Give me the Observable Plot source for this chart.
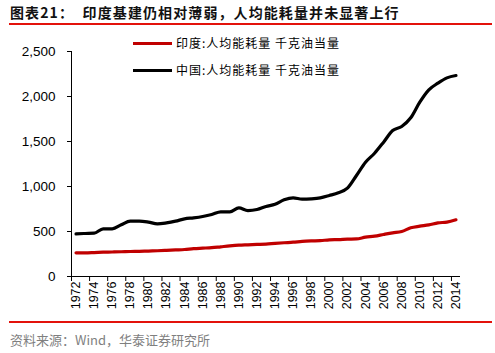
<!DOCTYPE html>
<html><head><meta charset="utf-8">
<script src="https://cdn.jsdelivr.net/npm/d3@7"></script>
<script src="https://cdn.jsdelivr.net/npm/@observablehq/plot@0.6"></script>
<style>
body{margin:0;background:#fff;}
#wrap{position:relative;width:495px;height:353px;overflow:hidden;background:#fff;}
#chart{position:absolute;left:0;top:0;}
.title{position:absolute;left:10px;top:3px;font-family:"Noto Sans CJK SC",sans-serif;font-weight:bold;font-size:14px;letter-spacing:1.1px;color:#111;white-space:pre;line-height:18px;}
.rule{position:absolute;left:9px;width:483px;height:2px;background:#e3120b;}
.caption{position:absolute;left:10px;top:331px;font-family:"Noto Sans CJK SC",sans-serif;font-size:13px;color:#7f7f7f;white-space:pre;line-height:17px;}
.leg{position:absolute;left:133px;height:14px;font-family:"Noto Sans CJK SC",sans-serif;font-size:12px;letter-spacing:1px;color:#000;white-space:pre;line-height:14px;}
.leg span.sw{position:absolute;left:0;top:6px;width:39px;height:3px;}
.leg span.tx{position:absolute;left:43px;top:0;}
</style></head>
<body>
<div id="wrap">
  <div id="chart"></div>
  <div class="title" id="title"></div>
  <div class="rule" style="top:23px"></div>
  <div class="rule" style="top:321px"></div>
  <div class="caption" id="caption"></div>
  <div id="legend"></div>
</div>
<script>
const titleText = "图表21：  印度基建仍相对薄弱，人均能耗量并未显著上行";
const captionText = "资料来源：Wind，华泰证券研究所";
const seriesNames = ["印度:人均能耗量 千克油当量", "中国:人均能耗量 千克油当量"];
const seriesColors = ["#c00000", "#000000"];
const years = d3.range(1972, 2015);
const india = [263,263,266,270,272,275,278,280,283,286,290,295,300,310,315,320,330,340,348,352,356,360,368,375,381,390,395,398,407,410,415,418,437,448,467,485,500,541,559,574,596,604,630];
const china = [474,478,481,530,530,574,615,615,604,585,596,615,641,652,667,689,719,719,763,733,744,778,803,852,874,859,863,874,900,930,981,1122,1270,1370,1493,1622,1667,1763,1937,2074,2148,2207,2233];
const yTicks = [0,500,1000,1500,2000,2500];
const xLabelYears = years.filter(y => y % 2 === 0);

document.getElementById("title").textContent = titleText;
document.getElementById("caption").textContent = captionText;

const legendTops = [36, 63];
const legend = document.getElementById("legend");
seriesNames.forEach((n, i) => {
  const d = document.createElement("div");
  d.className = "leg";
  d.style.top = legendTops[i] + "px";
  d.innerHTML = `<span class="sw" style="background:${seriesColors[i]}"></span><span class="tx"></span>`;
  d.querySelector(".tx").textContent = n;
  legend.appendChild(d);
});

const data = [];
years.forEach((y, i) => {
  data.push({year: y, v: india[i], s: seriesNames[0]});
  data.push({year: y, v: china[i], s: seriesNames[1]});
});

const chart = Plot.plot({
  width: 495, height: 353,
  marginLeft: 71, marginRight: 35, marginTop: 51, marginBottom: 77,
  style: {fontFamily: "'Liberation Sans', Arial, sans-serif", fontSize: "13px", color: "#000", background: "transparent"},
  x: {type: "linear", domain: [years[0] - 0.5, years[years.length - 1] + 0.5]},
  y: {domain: [0, 2500]},
  color: {domain: seriesNames, range: seriesColors},
  marks: [
    Plot.axisY({ticks: yTicks, tickFormat: d3.format(","), tickSize: 4, tickPadding: 12, label: null, fontSize: 13.5}),
    Plot.axisX({ticks: xLabelYears.map(y => y - 0.5), tickSize: 5, tickFormat: () => "", label: null}),
    Plot.axisX({ticks: xLabelYears, tickSize: 0, tickPadding: 5, tickRotate: -90, tickFormat: d => String(d), label: null, fontSize: 12.5}),
    Plot.ruleX([years[0] - 0.5], {stroke: "#000"}),
    Plot.ruleY([0], {stroke: "#000"}),
    Plot.line(data, {x: "year", y: "v", z: "s", stroke: "s", strokeWidth: 3.2, curve: "monotone-x"})
  ]
});
document.getElementById("chart").appendChild(chart);
</script>
</body></html>
